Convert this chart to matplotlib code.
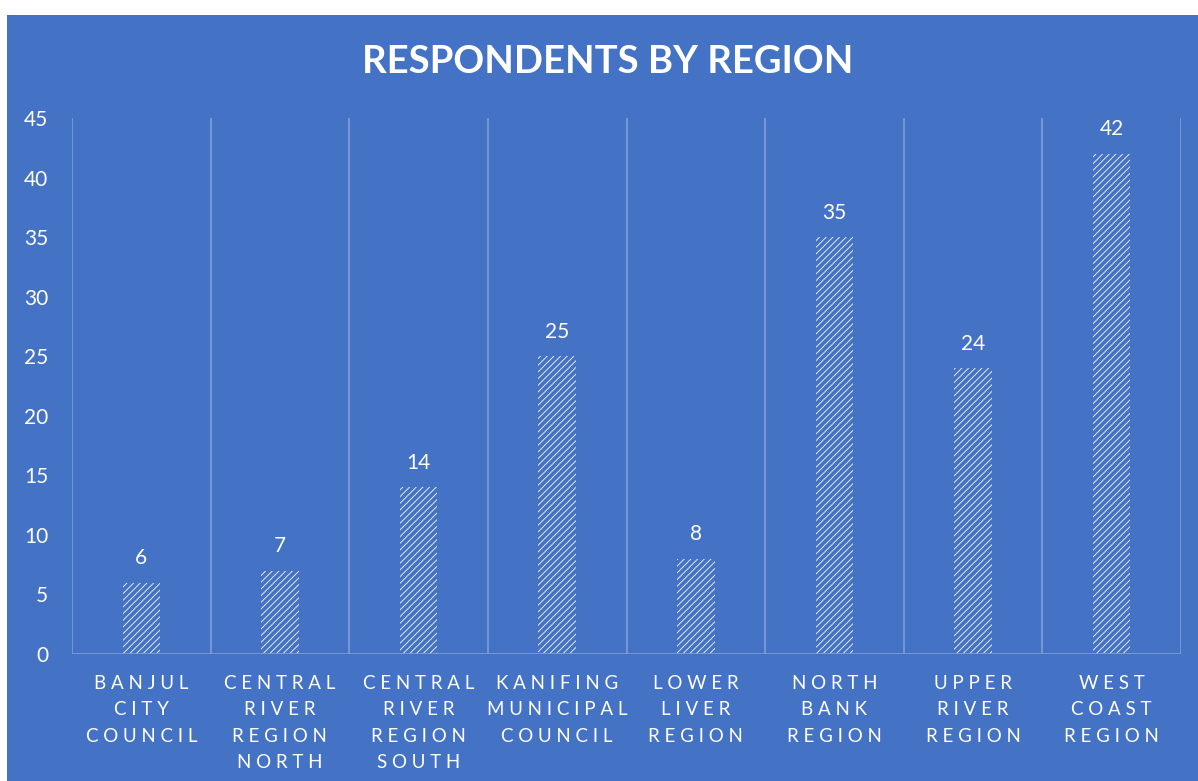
import numpy as np
import matplotlib.pyplot as plt

regions = [
    ["BANJUL", "CITY", "COUNCIL"],
    ["CENTRAL", "RIVER", "REGION", "NORTH"],
    ["CENTRAL", "RIVER", "REGION", "SOUTH"],
    ["KANIFING", "MUNICIPAL", "COUNCIL"],
    ["LOWER", "LIVER", "REGION"],
    ["NORTH", "BANK", "REGION"],
    ["UPPER", "RIVER", "REGION"],
    ["WEST", "COAST", "REGION"],
]
respondents = [6, 7, 14, 25, 8, 35, 24, 42]
yticks = [0, 5, 10, 15, 20, 25, 30, 35, 40, 45]

bg = '#4472C4'
grid = '#7B9BD6'

plt.rcParams['font.family'] = ['Lato', 'DejaVu Sans']
plt.rcParams['hatch.linewidth'] = 2.8

fig = plt.figure(figsize=(11.98, 7.81), dpi=100)
fig.patch.set_facecolor('white')
# blue chart panel, with a thin white margin at top and left
fig.patches.append(plt.Rectangle((7 / 1198, 0), 1 - 7 / 1198, 1 - 15 / 781,
                                 transform=fig.transFigure, facecolor=bg,
                                 edgecolor='none', zorder=-1))

ax = fig.add_axes([72 / 1198, 1 - 654 / 781, (1181 - 72) / 1198, (654 - 118) / 781])
ax.set_facecolor(bg)
n = len(respondents)
x = np.arange(n)
ax.bar(x, respondents, width=0.27, color='white', edgecolor=bg,
       hatch='/////', linewidth=0, zorder=3)

for xi, v in zip(x, respondents):
    ax.annotate(str(v), (xi, v), xytext=(0, 10.5), textcoords='offset points',
                ha='center', va='bottom', color='white', fontsize=15)

ax.set_xlim(-0.5, n - 0.5)
ax.set_ylim(0, 45)
ax.set_yticks(yticks)
ax.set_yticklabels([str(t) for t in yticks], color='white', fontsize=15)
ax.tick_params(axis='y', length=0, pad=17)
ax.set_xticks(x)
ax.set_xticklabels([])
ax.tick_params(axis='x', length=0)

for b in np.arange(n + 1) - 0.5:
    ax.axvline(b, color=grid, linewidth=1.3, zorder=1)
for s in ax.spines.values():
    s.set_visible(False)
ax.axhline(0, color=grid, linewidth=1.3, zorder=4)

for xi, lines in zip(x, regions):
    for k, word in enumerate(lines):
        ax.annotate(' '.join(word), (xi, 0), xytext=(0, -15 - 19 * k),
                    textcoords='offset points', ha='center', va='top',
                    color='white', fontsize=13.5, xycoords='data')

fig.text(0.5 + 9 / 1198, 1 - 62 / 781, 'RESPONDENTS BY REGION', ha='center',
         va='center', color='white', fontsize=27.5, fontweight='bold')

fig.savefig('out.png', dpi=100, facecolor=fig.get_facecolor())
